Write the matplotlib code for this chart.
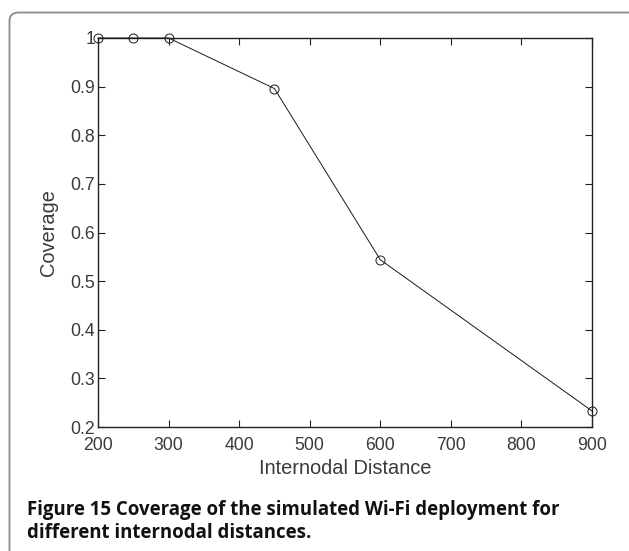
import matplotlib
matplotlib.use("Agg")
import matplotlib.pyplot as plt
from matplotlib.patches import FancyBboxPatch

distance = [200, 250, 300, 450, 600, 900]
coverage = [1.0, 1.0, 1.0, 0.896, 0.544, 0.233]
xticks = [200, 300, 400, 500, 600, 700, 800, 900]
yticks = [0.2, 0.3, 0.4, 0.5, 0.6, 0.7, 0.8, 0.9, 1.0]
ytick_labels = ["0.2", "0.3", "0.4", "0.5", "0.6", "0.7", "0.8", "0.9", "1"]
caption_lines = ["Figure 15 Coverage of the simulated Wi-Fi deployment for",
                 "different internodal distances."]

W, H = 629, 551
fig = plt.figure(figsize=(W / 100, H / 100), dpi=100)
fig.patch.set_facecolor("white")

# border box (open to the right/bottom beyond image)
box = FancyBboxPatch((9.5 / W, -0.2), 1.2, (H - 12.5) / H + 0.2,
                     boxstyle="round,pad=0,rounding_size=0.015",
                     transform=fig.transFigure, facecolor="none",
                     edgecolor="#8a8a8a", linewidth=1.3)
fig.patches.append(box)

ax = fig.add_axes([98 / W, 1 - 427 / H, (592 - 98) / W, (427 - 38) / H])
ax.plot(distance, coverage, color="#1a1a1a", linewidth=0.7, marker="o",
        markersize=6.5, markerfacecolor="none", markeredgecolor="#1a1a1a",
        markeredgewidth=0.7, clip_on=False, zorder=3)
ax.set_xlim(200, 900)
ax.set_ylim(0.2, 1.0)
ax.set_xticks(xticks)
ax.set_yticks(yticks)
ax.set_yticklabels(ytick_labels)

font = "Liberation Sans"
txtcol = "#3a3a3a"
ax.tick_params(direction="in", length=5, width=0.8, top=True, right=True,
               labelsize=12.7, colors="#222222", labelcolor=txtcol)
ax.tick_params(axis="y", pad=2)
ax.tick_params(axis="x", pad=7.5)
for lab in ax.get_xticklabels() + ax.get_yticklabels():
    lab.set_fontfamily(font)
for s in ax.spines.values():
    s.set_color("#222222")
    s.set_linewidth(1.0)

ax.set_xlabel("Internodal Distance", fontsize=14.4, color=txtcol,
              family=font, labelpad=3)
ax.set_ylabel("Coverage", fontsize=14.4, color=txtcol, family=font,
              labelpad=9)

cap_font = "Open Sans"
fig.text(27 / W, 1 - 514.5 / H, caption_lines[0], fontsize=13.4,
         fontweight="bold", family=cap_font, color="#111111",
         va="baseline", ha="left")
fig.text(27 / W, 1 - 538 / H, caption_lines[1], fontsize=13.4,
         fontweight="bold", family=cap_font, color="#111111",
         va="baseline", ha="left")

fig.savefig("out.png", dpi=100)
